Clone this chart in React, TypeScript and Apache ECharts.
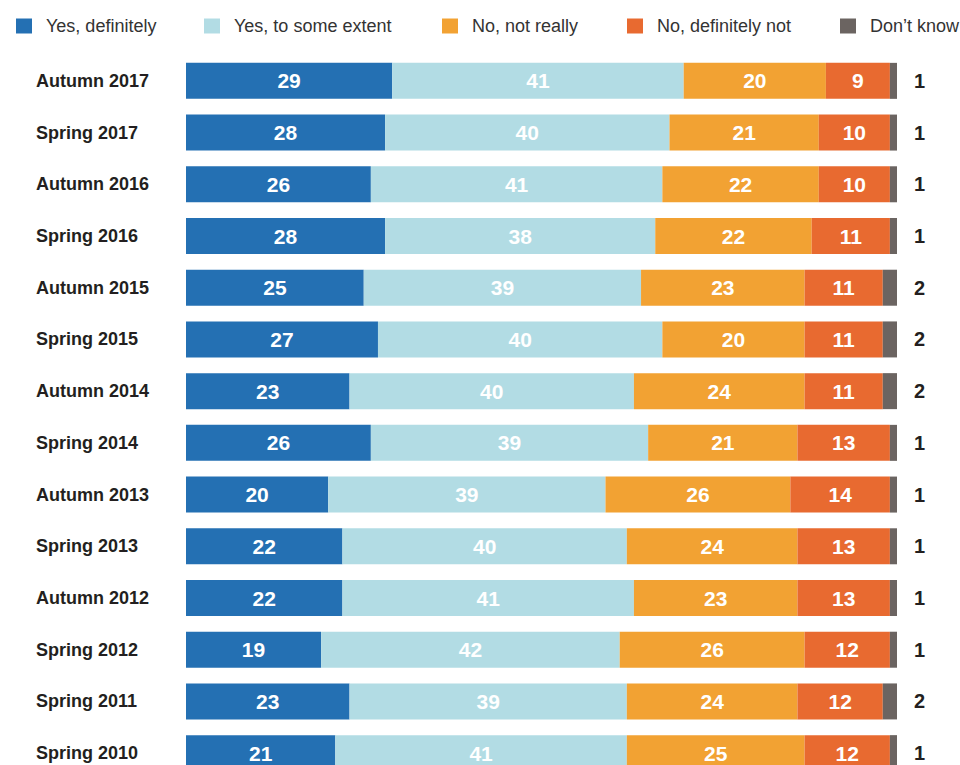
import React, { useEffect, useRef } from "react";
import * as echarts from "echarts";

const categories = [
  "Autumn 2017", "Spring 2017", "Autumn 2016", "Spring 2016", "Autumn 2015",
  "Spring 2015", "Autumn 2014", "Spring 2014", "Autumn 2013", "Spring 2013",
  "Autumn 2012", "Spring 2012", "Spring 2011", "Spring 2010",
];
const seriesNames = ["Yes, definitely", "Yes, to some extent", "No, not really", "No, definitely not", "Don’t know"];
const yesDefinitely = [29, 28, 26, 28, 25, 27, 23, 26, 20, 22, 22, 19, 23, 21];
const yesSomeExtent = [41, 40, 41, 38, 39, 40, 40, 39, 39, 40, 41, 42, 39, 41];
const noNotReally = [20, 21, 22, 22, 23, 20, 24, 21, 26, 24, 23, 26, 24, 25];
const noDefinitelyNot = [9, 10, 10, 11, 11, 11, 11, 13, 14, 13, 13, 12, 12, 12];
const dontKnow = [1, 1, 1, 1, 2, 2, 2, 1, 1, 1, 1, 1, 2, 1];

const colors = ["#2470b3", "#b2dce4", "#f2a233", "#e86a30", "#6b6461"];
const legendLefts = [11, 199, 437, 622, 835];

export default function App() {
  const ref = useRef<HTMLDivElement>(null);
  useEffect(() => {
    document.body.style.margin = "0";
    const chart = echarts.init(ref.current!, null, { renderer: "svg" });
    const values = [yesDefinitely, yesSomeExtent, noNotReally, noDefinitelyNot, dontKnow];
    const font = "'Liberation Sans', Arial, Helvetica, sans-serif";
    chart.setOption({
      animation: false,
      backgroundColor: "#ffffff",
      legend: seriesNames.map((n, i) => ({
        data: [n],
        left: legendLefts[i],
        top: 12,
        icon: "rect",
        itemWidth: 16,
        itemHeight: 15,
        selectedMode: false,
        textStyle: { fontFamily: font, fontSize: 18, color: "#333333", padding: [0, 0, 0, 9] },
      })),
      grid: { left: 186, width: 711, top: 55, height: 724, containLabel: false },
      xAxis: { type: "value", min: 0, max: 100, show: false },
      yAxis: {
        type: "category",
        data: categories,
        inverse: true,
        axisLine: { show: false },
        axisTick: { show: false },
        axisLabel: {
          align: "left",
          margin: 150,
          fontFamily: font,
          fontSize: 18,
          fontWeight: "bold",
          color: "#231f20",
        },
      },
      series: seriesNames.map((n, i) => ({
        name: n,
        type: "bar",
        stack: "total",
        barWidth: 36,
        data: values[i],
        itemStyle: { color: colors[i] },
        label:
          i < 4
            ? {
                show: true,
                position: "inside",
                color: "#ffffff",
                fontFamily: font,
                fontSize: 21,
                fontWeight: "bold",
              }
            : {
                show: true,
                position: "right",
                distance: 17,
                color: "#231f20",
                fontFamily: font,
                fontSize: 20,
                fontWeight: "bold",
              },
      })),
    });
    return () => chart.dispose();
  }, []);
  return (
    <div style={{ width: 960, height: 765, overflow: "hidden" }}>
      <div ref={ref} style={{ width: 960, height: 800 }} />
    </div>
  );
}
